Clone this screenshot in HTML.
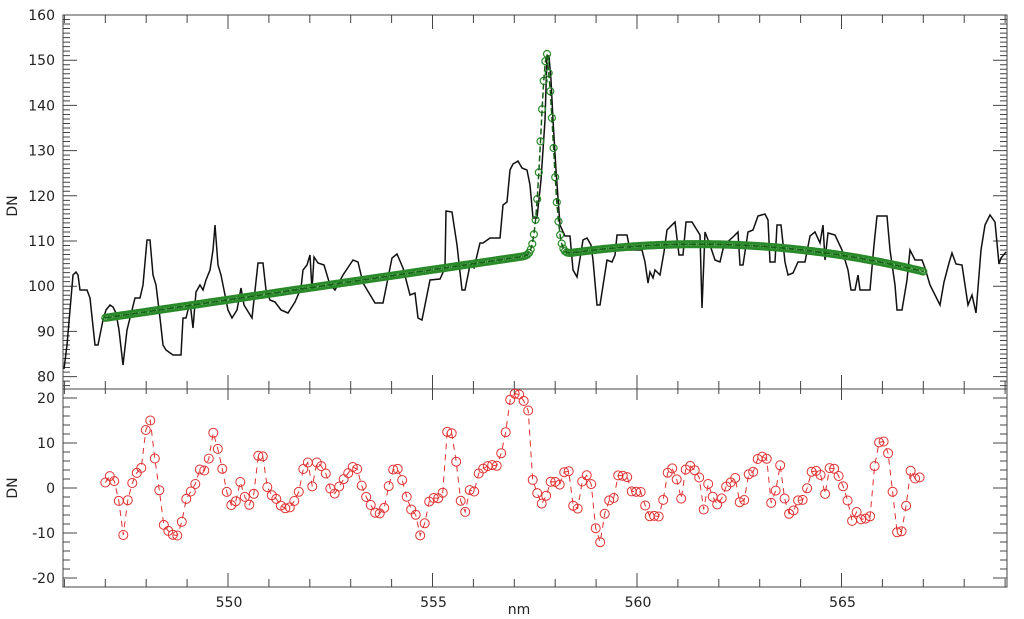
<!DOCTYPE html>
<html><head><meta charset="utf-8"><style>
html,body{margin:0;padding:0;background:#fff;width:1024px;height:619px;overflow:hidden}
text{font-family:"DejaVu Sans","Liberation Sans",sans-serif;font-size:14px;fill:#222}
</style></head><body>
<svg id="s" width="1024" height="619" xmlns="http://www.w3.org/2000/svg">
<g id="ax" stroke="#444" stroke-width="1" fill="none"></g>
<g id="lab"></g>
<g id="dat"></g>
</svg>
<script>
var NS="http://www.w3.org/2000/svg";
function el(p,t,a,txt){var e=document.createElementNS(NS,t);for(var k in a)e.setAttribute(k,a[k]);if(txt!==undefined)e.textContent=txt;document.getElementById(p).appendChild(e);return e;}
var L=63,R=1007,T=15,M=389,B=587;
function X(nm){return 228+(nm-550)*40.9;}
function YT(v){return 15+(160-v)*4.52;}
function YB(v){return 488-v*4.5;}
var ax="";
ax+="M"+L+" "+T+"H"+R+"V"+B+"H"+L+"Z M"+L+" "+M+"H"+R;
for(var n=546;n<=569;n++){var x=X(n);if(x<L||x>R)continue;var maj=(n%5==0);var l=maj?14:8;
ax+="M"+x+" "+T+"v"+l+" M"+x+" "+M+"v-"+l+" M"+x+" "+M+"v"+(l-3)+" M"+x+" "+B+"v-"+l;}
for(var v=78;v<=160;v++){var y=YT(v);if(y>M||y<T)continue;var maj=(v%10==0),l=maj?14:7;
ax+="M"+L+" "+y+"h"+l+" M"+R+" "+y+"h-"+l;}
for(var v=-22;v<=22;v+=2){var y=YB(v);if(y>B||y<M)continue;var maj=(v%10==0),l=maj?14:7;
ax+="M"+L+" "+y+"h"+l+" M"+R+" "+y+"h-"+l;}
el("ax","path",{d:ax});
for(var v=80;v<=160;v+=10)el("lab","text",{x:55,y:YT(v)+5,"text-anchor":"end"},""+v);
for(var v=-20;v<=20;v+=10)el("lab","text",{x:55,y:YB(v)+5,"text-anchor":"end"},""+v);
[550,555,560,565].forEach(function(n){el("lab","text",{x:X(n)+1,y:607,"text-anchor":"middle"},""+n);});
el("lab","text",{x:519,y:614,"text-anchor":"middle"},"nm");
el("lab","text",{x:0,y:0,"text-anchor":"middle",transform:"translate(17,206) rotate(-90)"},"DN");
el("lab","text",{x:0,y:0,"text-anchor":"middle",transform:"translate(17,488) rotate(-90)"},"DN");
var bp=[[64,369],[67,345],[73,275],[76,272],[78,275],[80,290],[87,290],[90,298],[95,345],[98,345],[103,320],[106,310],[110,305],[113,307],[116,313],[119,330],[123,365],[127,330],[132,310],[135,298],[140,298],[143,285],[147,240],[150,240],[153,275],[156,285],[160,318],[163,345],[166,350],[173,355],[181,355],[183,318],[186,318],[190,302],[193,328],[196,292],[200,285],[203,290],[206,280],[210,270],[213,250],[215,225],[218,265],[221,275],[224,290],[228,310],[232,318],[237,310],[241,288],[244,305],[252,318],[258,263],[263,263],[266,290],[270,300],[275,302],[281,310],[288,313],[295,302],[301,288],[303,270],[307,265],[310,255],[312,290],[314,257],[318,263],[324,265],[330,285],[335,290],[343,275],[353,260],[358,262],[363,283],[375,303],[383,303],[392,258],[397,254],[403,268],[410,295],[415,293],[418,318],[422,320],[430,280],[440,279],[445,268],[446,211],[452,212],[457,245],[462,290],[465,290],[470,265],[474,268],[480,243],[483,243],[490,238],[500,238],[503,205],[507,202],[510,170],[513,164],[518,161],[522,168],[527,170],[530,185],[533,218],[537,218],[541,180],[545,120],[547,56],[549,56],[551,80],[553,120],[556,170],[560,225],[565,236],[570,236],[573,270],[577,277],[583,240],[587,238],[591,245],[593,260],[597,305],[600,305],[607,260],[612,262],[615,255],[617,235],[627,235],[630,250],[642,250],[645,262],[648,283],[650,272],[653,278],[655,270],[660,275],[664,252],[667,230],[675,222],[679,255],[683,255],[686,222],[692,222],[700,235],[702,308],[705,232],[710,245],[715,260],[720,262],[724,245],[733,237],[738,232],[740,265],[743,265],[748,232],[753,230],[758,216],[765,214],[768,220],[770,262],[775,262],[777,225],[781,225],[785,262],[788,275],[793,273],[798,262],[805,262],[810,236],[815,232],[820,243],[823,225],[825,260],[828,233],[835,235],[842,250],[848,270],[851,290],[855,290],[858,275],[860,290],[870,290],[874,245],[877,216],[887,216],[890,250],[895,285],[897,310],[902,310],[907,280],[910,250],[915,260],[922,260],[925,268],[930,285],[940,305],[944,282],[949,263],[952,253],[956,264],[962,265],[968,305],[972,295],[976,313],[981,250],[985,225],[990,215],[995,222],[999,264],[1001,258],[1006,252]];
el("dat","polyline",{points:bp.map(function(p){return p.join(",")}).join(" "),fill:"none",stroke:"#111","stroke-width":1.5});
function bAt(x){for(var i=1;i<bp.length;i++){if(bp[i][0]>=x){var a=bp[i-1],b=bp[i];var t=(x-a[0])/((b[0]-a[0])||1);return a[1]+t*(b[1]-a[1]);}}return bp[bp.length-1][1];}
function fit(n){var base;if(n<557.8)base=93+(n-547)*(106.7-93)/10.3;else base=109.3-0.2*(n-561.5)*(n-561.5);
return base+(150-(n<557.8?106:108))*Math.exp(-Math.pow((n-557.8)/0.15,2)/2);}
var gp=[];
for(var n=547;n<=567.001;n+=0.04){var x=X(n),y=YT(fit(n));gp.push(x.toFixed(1)+","+y.toFixed(1));
el("dat","circle",{cx:x.toFixed(1),cy:y.toFixed(1),r:3.5,fill:"none",stroke:"#2a8a2a","stroke-width":1.2});}
el("dat","polyline",{points:gp.join(" "),fill:"none",stroke:"#146014","stroke-width":1.5,"stroke-dasharray":"6,3"});
var rp=[];
for(var n=547;n<=567.001;n+=0.11){var x=X(n);var r=(YT(fit(n))-bAt(x))/4.52;if(Math.abs(n-557.8)<0.4)r*=0.3;r=Math.max(-21,Math.min(21,r));rp.push([x,YB(r)]);}
el("dat","polyline",{points:rp.map(function(p){return p[0].toFixed(1)+","+p[1].toFixed(1)}).join(" "),fill:"none",stroke:"#e03030","stroke-width":1,"stroke-dasharray":"6,5"});
rp.forEach(function(p){el("dat","circle",{cx:p[0].toFixed(1),cy:p[1].toFixed(1),r:4.5,fill:"none",stroke:"#e03030","stroke-width":1});});
</script>
</body></html>
